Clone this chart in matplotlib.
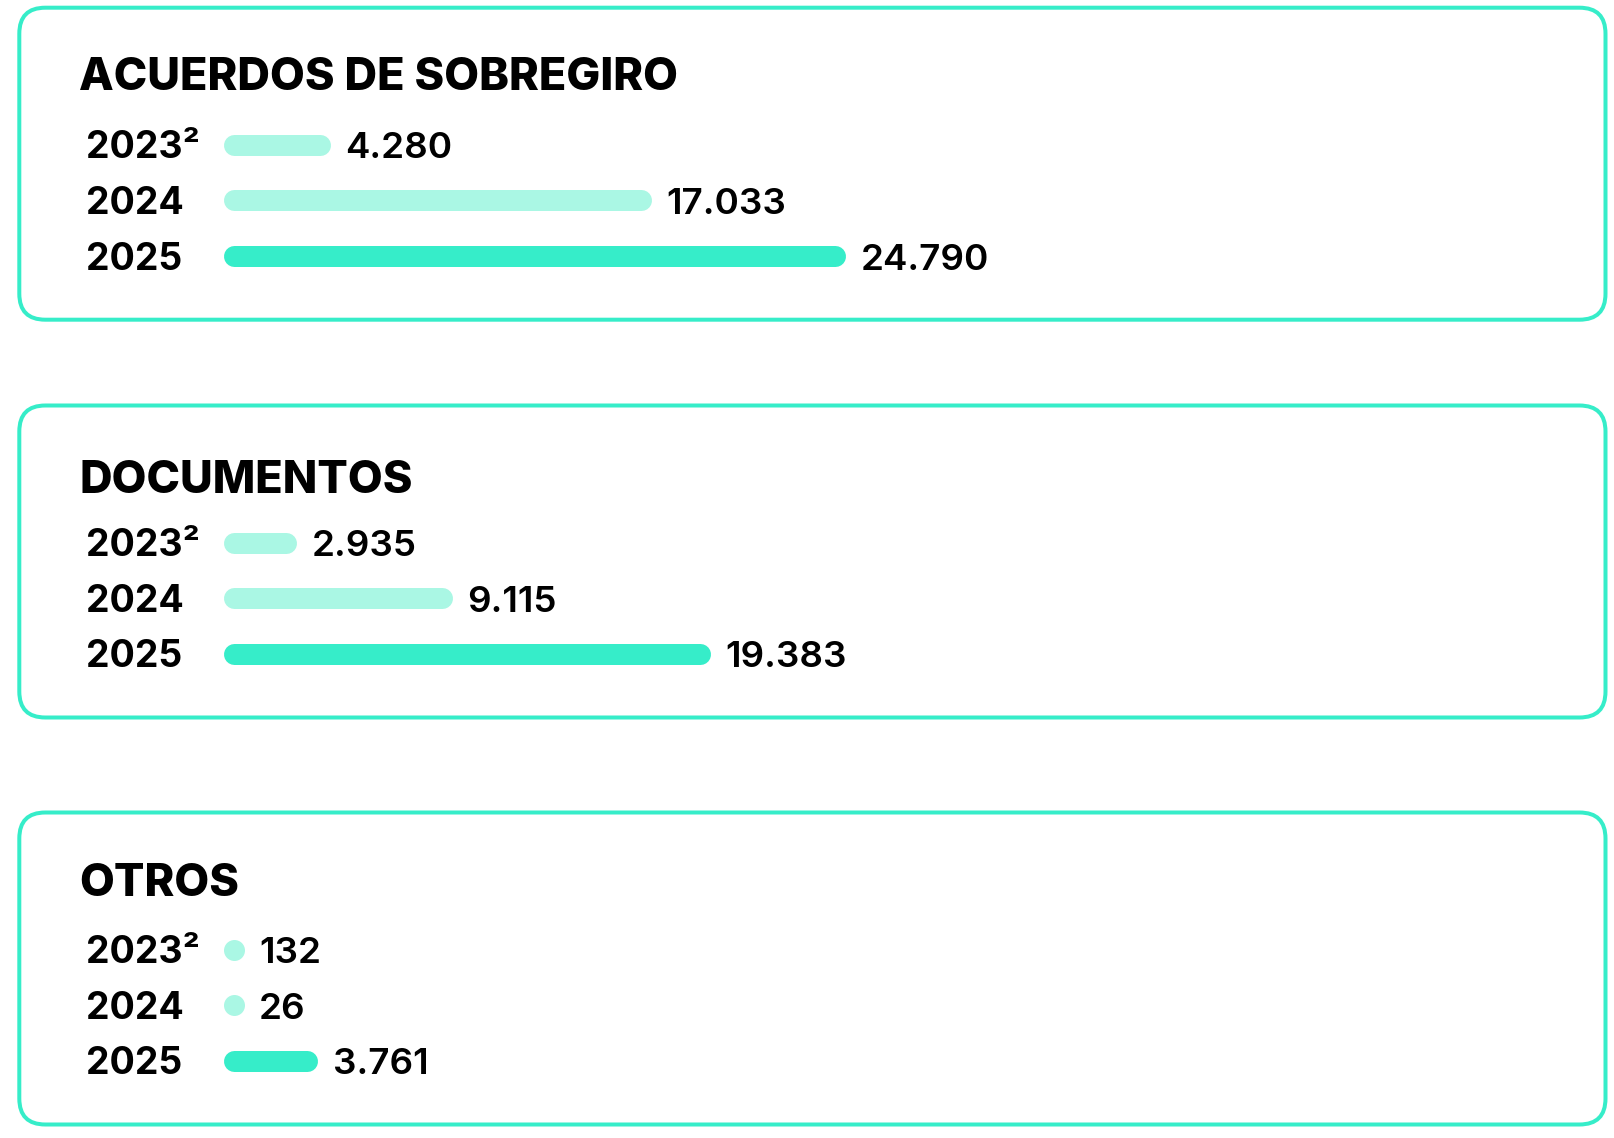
import matplotlib.pyplot as plt
from matplotlib.patches import FancyBboxPatch

# ── Data ──────────────────────────────────────────────────────────────────────
TITLES = ["ACUERDOS DE SOBREGIRO", "DOCUMENTOS", "OTROS"]
YEARS = ["2023²", "2024", "2025"]
SOBREGIRO = [4280, 17033, 24790]
DOCUMENTOS = [2935, 9115, 19383]
OTROS = [132, 26, 3761]
SERIES = [SOBREGIRO, DOCUMENTOS, OTROS]

# ── Style / layout (pixels) ───────────────────────────────────────────────────
W, H, DPI = 1614, 1138, 100
PT = 72 / DPI                      # points per pixel
AQUA = "#36EDC9"
AQUA_LIGHT = "#AAF7E4"
BAR_COLORS = [AQUA_LIGHT, AQUA_LIGHT, AQUA]
FONT = ["Inter", "DejaVu Sans"]

PANEL_TOPS = [7.7, 405.5, 812.5]
TITLE_BASE = [82.3, 87.8, 83.2]    # title baseline below panel top
PANEL_H = 312
BOX_LEFT, BOX_RIGHT = 19.3, 1605.5
BAR_X0 = 223                      # pixel where value 0 sits
PX_PER_UNIT = 623 / 24790          # bar length scale
ROW_FIRST, ROW_STEP = 137, 55.7
BAR_H = 21
LABEL_X = 86
TEXT_DROP = 13.5                   # baseline below bar centre

plt.rcParams["font.family"] = FONT

fig = plt.figure(figsize=(W / DPI, H / DPI), dpi=DPI, facecolor="white")

# background axes in pixel coordinates for boxes and titles
bg = fig.add_axes([0, 0, 1, 1])
bg.set_xlim(0, W)
bg.set_ylim(H, 0)
bg.axis("off")

for top, tb, title, values in zip(PANEL_TOPS, TITLE_BASE, TITLES, SERIES):
    bg.add_patch(FancyBboxPatch((BOX_LEFT, top), BOX_RIGHT - BOX_LEFT, PANEL_H,
                                boxstyle="round,pad=0,rounding_size=26",
                                fc="none", ec=AQUA, lw=4 * PT))
    bg.text(79, top + tb, title, fontsize=32.5, fontweight="heavy",
            color="#000000", ha="left", va="baseline")

    # axes for the bars: x in data units, y = row index
    ax = fig.add_axes([0, 1 - (top + PANEL_H) / H, 1, PANEL_H / H])
    ax.set_xlim(-BAR_X0 / PX_PER_UNIT, (W - BAR_X0) / PX_PER_UNIT)
    ax.set_ylim((PANEL_H - ROW_FIRST) / ROW_STEP, -ROW_FIRST / ROW_STEP)
    ax.axis("off")
    ax.patch.set_alpha(0)

    r = (BAR_H / 2) / PX_PER_UNIT   # cap radius in data units
    for i, (year, v, c) in enumerate(zip(YEARS, values, BAR_COLORS)):
        if v > 2 * r:
            end = v - r
            ax.plot([r, end], [i, i], color=c, lw=BAR_H * PT,
                    solid_capstyle="round")
        else:
            # too short for a bar: just a dot
            end = r
            ax.plot([r], [i], "o", color=c, ms=BAR_H * PT, mew=0)
        ax.annotate(f"{v:,}".replace(",", "."), xy=(end + r, i),
                    xytext=(15 * PT, -TEXT_DROP * PT), textcoords="offset points",
                    fontsize=26.5, fontweight="semibold", color="#000000",
                    ha="left", va="baseline")
        ax.annotate(year, xy=(LABEL_X, i), xycoords=("figure pixels", "data"),
                    xytext=(0, -TEXT_DROP * PT), textcoords="offset points",
                    fontsize=27, fontweight="bold", color="#000000",
                    ha="left", va="baseline")

fig.savefig("out.png", dpi=DPI, facecolor="white")
